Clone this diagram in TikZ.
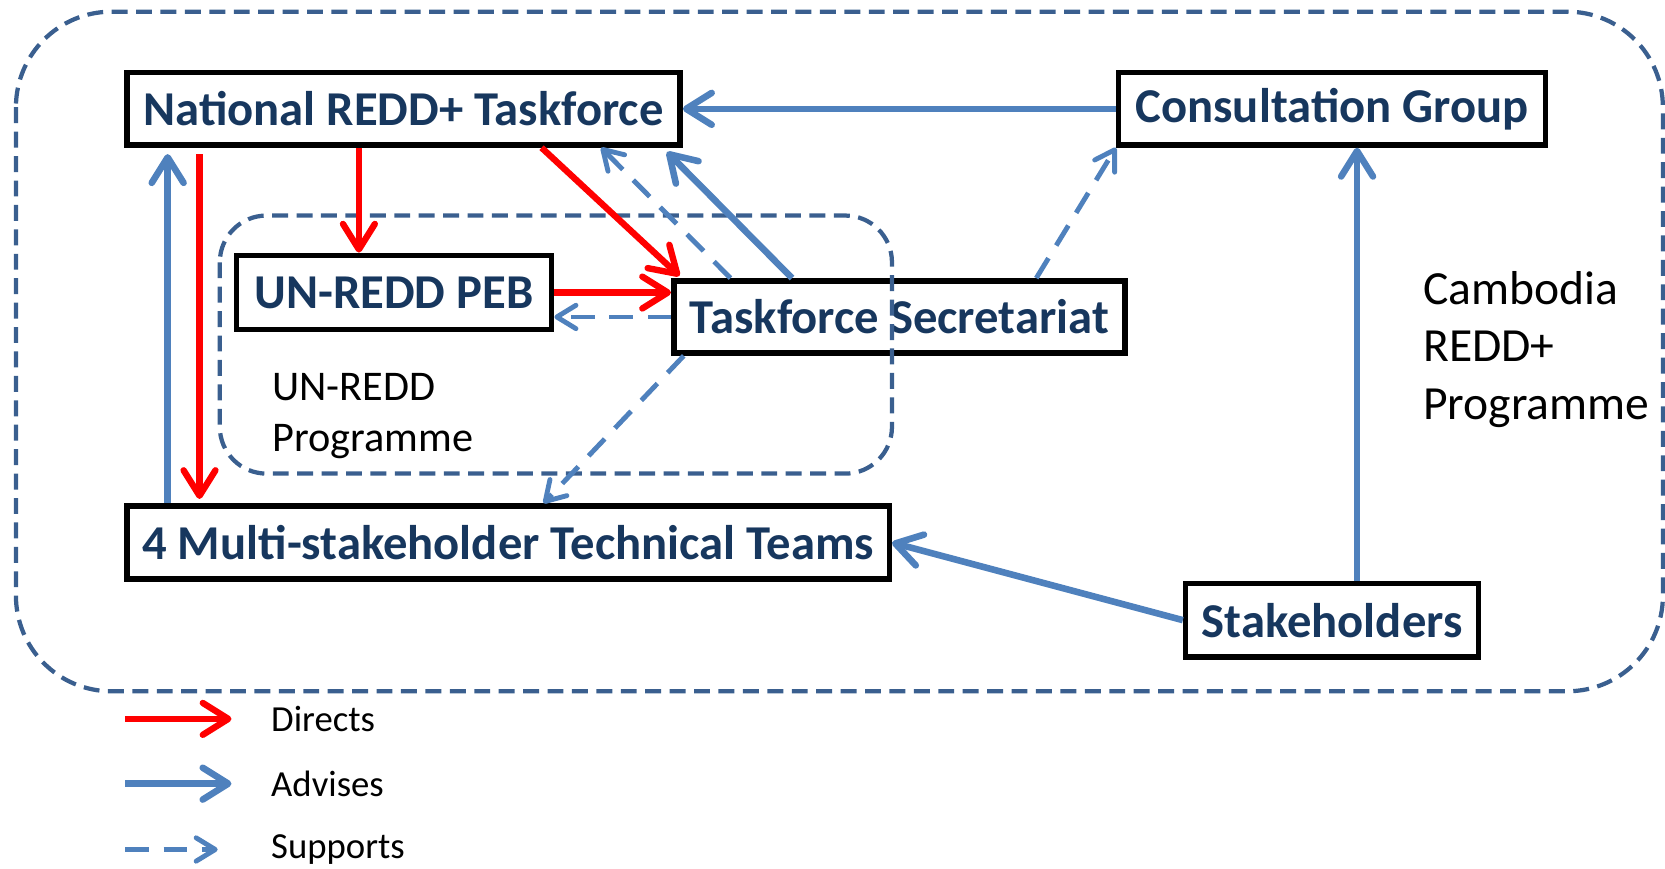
\documentclass[tikz,border=0pt]{standalone}
\usepackage{fontspec}
\setmainfont{Carlito}
\usetikzlibrary{arrows.meta,calc}
\definecolor{rd}{HTML}{FF0000}
\definecolor{bl}{HTML}{4F81BD}
\definecolor{tx}{HTML}{17375E}
\definecolor{fr}{HTML}{3A5F8F}
\tikzset{
  box/.style={draw=black, line width=2.6pt, inner sep=0pt, text=tx,
    font=\fontsize{22.9}{27}\selectfont\bfseries},
  dirarrow/.style={draw=rd, line width=3pt,
    -{Straight Barb[length=12pt,width=15pt,round]}},
  advarrow/.style={draw=bl, line width=3.1pt,
    -{Straight Barb[length=12pt,width=15pt,round]}},
  suparrow/.style={draw=bl, line width=2.3pt, dash pattern=on 11pt off 7pt,
    -{Straight Barb[length=9pt,width=11pt,round]}},
  framebox/.style={draw=fr, line width=2pt, dash pattern=on 7.5pt off 4pt},
  plain/.style={inner sep=0pt, align=left, text=black}
}
\begin{document}
\begin{tikzpicture}[x=0.5pt,y=-0.5pt]
\useasboundingbox (0,0) rectangle (1568,818);

% boxes
\node[box, minimum width=260.5pt, minimum height=34pt] (nrt) at (380,102.5) {National REDD+ Taskforce};
\node[box, minimum width=201pt, minimum height=34pt] (cg) at (1254.5,102.5) {Consultation Group};
\node[box, minimum width=148.5pt, minimum height=35pt] (peb) at (371,275.5) {UN-REDD PEB};
\node[box, minimum width=212.5pt, minimum height=34pt] (ts) at (847,298.5) {Taskforce Secretariat};
\node[box, minimum width=359pt, minimum height=34.5pt] (mtt) at (478.5,511) {4 Multi-stakeholder Technical Teams};
\node[box, minimum width=138pt, minimum height=34.5pt] (sh) at (1254.5,584) {Stakeholders};

% frames
\draw[framebox, rounded corners=45pt] (15,11) rectangle (1566,651);
\draw[framebox, rounded corners=22pt] (207,203) rectangle (840,446);

% free texts
\node[plain, anchor=west, font=\fontsize{19.9}{24}\selectfont] (unp) at (256,392) {UN-REDD\\Programme};
\node[plain, anchor=west, font=\fontsize{22.4}{27}\selectfont] (crp) at (1340,329) {Cambodia\\REDD+\\Programme};

% connectors
\draw[advarrow] (cg.west) -- (nrt.east);
\draw[dirarrow] ($(nrt.south)+(-42,0)$) -- ($(peb.north)+(-33,0)$);
\draw[dirarrow] ($(nrt.south)+(130,0)$) -- ($(ts.north west)+(8,-2)$);
\draw[dirarrow] (peb.east) -- ($(ts.west)+(0,-23)$);
\draw[suparrow] (ts.west) -- ($(peb.east)+(0,23)$);
\draw[suparrow] ($(ts.north west)+(56,0)$) -- ($(nrt.south east)+(-77,0)$);
\draw[advarrow] ($(ts.north west)+(114,0)$) -- ($(nrt.south east)+(-15,4)$);
\draw[suparrow] ($(ts.north west)+(344,0)$) -- (cg.south west);
\draw[suparrow] ($(ts.south west)+(12,0)$) -- ($(mtt.north west)+(395,0)$);
\draw[advarrow] ($(mtt.north west)+(41,0)$) -- ($(nrt.south west)+(41,6)$);
\draw[dirarrow] ($(nrt.south west)+(71,6)$) -- ($(mtt.north west)+(71,-4)$);
\draw[advarrow] (sh.west) -- (mtt.east);
\draw[advarrow] ($(sh.north)+(23.5,0)$) -- ($(cg.south)+(23.5,0)$);

% legend
\coordinate (l1a) at (118,677); \coordinate (l1b) at (218,677);
\coordinate (l2a) at (118,738); \coordinate (l2b) at (218,738);
\coordinate (l3a) at (118,800); \coordinate (l3b) at (205,800);
\draw[dirarrow] (l1a) -- (l1b);
\draw[advarrow] (l2a) -- (l2b);
\draw[suparrow] (l3a) -- (l3b);
\node[plain, anchor=west, font=\fontsize{17.3}{20}\selectfont] (ld) at (255,677) {Directs};
\node[plain, anchor=west, font=\fontsize{17.3}{20}\selectfont] (la) at (255,738) {Advises};
\node[plain, anchor=west, font=\fontsize{17.3}{20}\selectfont] (ls) at (255,800) {Supports};
\end{tikzpicture}
\end{document}
